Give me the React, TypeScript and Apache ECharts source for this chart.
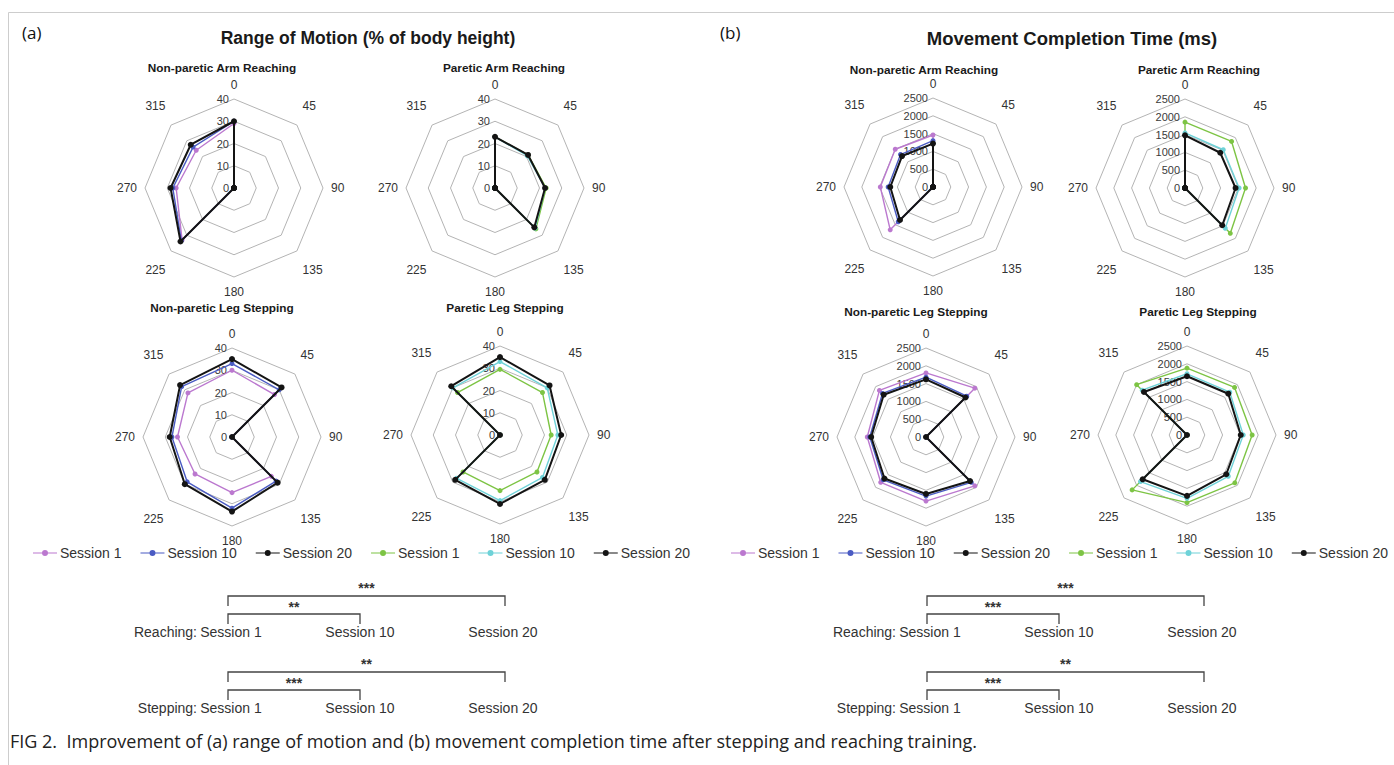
import React, { useEffect, useRef } from 'react';
import * as echarts from 'echarts';

// ---------- data ----------
const DIRECTIONS = [0, 45, 90, 135, 180, 225, 270, 315];
const SESSIONS = ['Session 1', 'Session 10', 'Session 20'];

// Range of motion (% of body height), order: 0,45,90,135,180,225,270,315
const romNpArmS1 = [29, 0, 0, 0, 0, 33, 26, 24];
const romNpArmS10 = [30, 0, 0, 0, 0, 33.5, 27.5, 26];
const romNpArmS20 = [30, 0, 0, 0, 0, 34, 28.5, 27.5];

const romPArmS1 = [23, 21, 23, 26, 0, 0, 0, 0];
const romPArmS10 = [23, 20.5, 22.5, 25.5, 0, 0, 0, 0];
const romPArmS20 = [23, 21, 22.5, 25, 0, 0, 0, 0];

const romNpLegS1 = [30, 27, 0, 25, 25, 23.5, 24.5, 28];
const romNpLegS10 = [33, 30, 0, 28, 32, 28.5, 27, 32];
const romNpLegS20 = [35, 31.5, 0, 29, 33.5, 30, 28, 33];

const romPLegS1 = [29.5, 27, 23, 23.5, 25, 23.5, 0, 27];
const romPLegS10 = [33, 30, 26, 27, 29.5, 27.5, 0, 30];
const romPLegS20 = [35, 31.5, 27.5, 28.5, 31, 28.5, 0, 31];

// Movement completion time (ms)
const mctNpArmS1 = [1460, 0, 0, 0, 0, 1700, 1480, 1500];
const mctNpArmS10 = [1300, 0, 0, 0, 0, 1380, 1260, 1290];
const mctNpArmS20 = [1220, 0, 0, 0, 0, 1310, 1200, 1230];

const mctPArmS1 = [1850, 1850, 1700, 1800, 0, 0, 0, 0];
const mctPArmS10 = [1550, 1520, 1520, 1600, 0, 0, 0, 0];
const mctPArmS20 = [1480, 1400, 1420, 1480, 0, 0, 0, 0];

const mctNpLegS1 = [1800, 1940, 0, 1940, 1800, 1800, 1650, 1850];
const mctNpLegS10 = [1680, 1620, 0, 1800, 1660, 1700, 1580, 1730];
const mctNpLegS20 = [1620, 1570, 0, 1750, 1600, 1650, 1540, 1680];

const mctPLegS1 = [1880, 1890, 1830, 1900, 1900, 2180, 0, 2000];
const mctPLegS10 = [1720, 1700, 1580, 1640, 1780, 1850, 0, 1780];
const mctPLegS20 = [1650, 1640, 1510, 1560, 1710, 1760, 0, 1710];

// significance: [Session 1 vs 20, Session 1 vs 10]
const romReachingSig = ['***', '**'];
const romSteppingSig = ['**', '***'];
const mctReachingSig = ['***', '***'];
const mctSteppingSig = ['**', '***'];

// ---------- layout / style ----------
const NP_COLORS = ['#bb78cf', '#4a5bc3', '#141414'];
const P_COLORS = ['#7dc444', '#6ed2d8', '#141414'];
const FONT = 'Liberation Sans, Arial, sans-serif';
const CAPTION_FONT = 'Open Sans, Lato, sans-serif';
const RADIUS = 89;

const CHARTS = [
  { title: 'Non-paretic Arm Reaching', max: 40, split: 4, data: [romNpArmS1, romNpArmS10, romNpArmS20], paretic: false, cx: 234, cy: 188, tx: 222, ty: 68 },
  { title: 'Paretic Arm Reaching', max: 40, split: 4, data: [romPArmS1, romPArmS10, romPArmS20], paretic: true, cx: 495, cy: 188, tx: 504, ty: 68 },
  { title: 'Non-paretic Leg Stepping', max: 40, split: 4, data: [romNpLegS1, romNpLegS10, romNpLegS20], paretic: false, cx: 232, cy: 437, tx: 222, ty: 308 },
  { title: 'Paretic Leg Stepping', max: 40, split: 4, data: [romPLegS1, romPLegS10, romPLegS20], paretic: true, cx: 500, cy: 435, tx: 505, ty: 308 },
  { title: 'Non-paretic Arm Reaching', max: 2500, split: 5, data: [mctNpArmS1, mctNpArmS10, mctNpArmS20], paretic: false, cx: 933, cy: 187, tx: 924, ty: 70 },
  { title: 'Paretic Arm Reaching', max: 2500, split: 5, data: [mctPArmS1, mctPArmS10, mctPArmS20], paretic: true, cx: 1185, cy: 188, tx: 1199, ty: 70 },
  { title: 'Non-paretic Leg Stepping', max: 2500, split: 5, data: [mctNpLegS1, mctNpLegS10, mctNpLegS20], paretic: false, cx: 926, cy: 437, tx: 916, ty: 312 },
  { title: 'Paretic Leg Stepping', max: 2500, split: 5, data: [mctPLegS1, mctPLegS10, mctPLegS20], paretic: true, cx: 1187, cy: 435, tx: 1198, ty: 312 },
];

// ECharts places radar indicators counter-clockwise; reorder so directions run clockwise
const CCW = [0, 7, 6, 5, 4, 3, 2, 1];
const reorder = (arr: any[]) => CCW.map((i) => arr[i]);

const seriesName = (s: string, paretic: boolean) => (paretic ? s + ' (P)' : s);

const LEGEND_ICON = 'path://M0,3.4H24V4.6H0Z M9,4A3,3 0 1,1 15,4A3,3 0 1,1 9,4Z';

// diagonal direction names sit a little higher / lower (Excel-like placement)
const nameFormatter = (name: string) => {
  if (name === '45' || name === '315') return name + '\n\n';
  if (name === '135' || name === '225') return '\n\n' + name;
  return name;
};

function buildOption() {
  const radar = CHARTS.map((c) => ({
    center: [c.cx, c.cy],
    radius: RADIUS,
    shape: 'polygon',
    startAngle: 90,
    splitNumber: c.split,
    indicator: reorder(DIRECTIONS).map((d, i) => ({
      name: String(d),
      min: 0,
      max: c.max,
      ...(i === 0 ? { axisLabel: { show: true } } : {}),
    })),
    nameGap: 8,
    axisNameGap: 8,
    axisName: { color: '#333', fontSize: 12, lineHeight: 13, fontFamily: FONT, formatter: nameFormatter },
    axisLine: { show: false },
    axisTick: { show: false },
    splitLine: { lineStyle: { color: '#b4b4b4', width: 1 } },
    splitArea: { show: false },
    axisLabel: {
      show: false,
      color: '#3a3a3a',
      fontSize: 11,
      fontFamily: FONT,
      margin: 5,
      formatter: (v: number) => String(v),
    },
  }));

  const series: any[] = [];
  CHARTS.forEach((c, ri) => {
    const colors = c.paretic ? P_COLORS : NP_COLORS;
    c.data.forEach((vals, si) => {
      const name = seriesName(SESSIONS[si], c.paretic);
      series.push({
        type: 'radar',
        radarIndex: ri,
        name,
        symbol: 'circle',
        symbolSize: si === 2 ? 6 : 5,
        itemStyle: { color: colors[si] },
        lineStyle: { color: colors[si], width: si === 2 ? 2 : 1.4 },
        z: 2 + si,
        data: [{ name, value: reorder(vals) }],
      });
    });
  });

  const legendNames = [
    ...SESSIONS.map((s) => seriesName(s, false)),
    ...SESSIONS.map((s) => seriesName(s, true)),
  ];
  const legendBase = {
    data: legendNames,
    top: 546,
    width: 700,
    padding: 0,
    icon: LEGEND_ICON,
    itemWidth: 24,
    itemHeight: 6,
    itemGap: 19,
    selectedMode: false,
    formatter: (n: string) => n.replace(' (P)', ''),
    textStyle: { color: '#333', fontSize: 14, fontFamily: FONT, padding: [0, 0, 0, -2] },
  };
  const legend = [
    { ...legendBase, left: 33 },
    { ...legendBase, left: 731 },
  ];

  const graphic: any[] = [];
  const txt = (text: string, x: number, y: number, o: any = {}) =>
    graphic.push({
      type: 'text',
      silent: true,
      style: {
        text,
        x,
        y,
        fill: o.fill || '#333',
        fontSize: o.fontSize || 14,
        fontFamily: o.fontFamily || FONT,
        fontWeight: o.fontWeight || 'normal',
        align: o.align || 'center',
        verticalAlign: 'middle',
      },
    });

  graphic.push({
    type: 'rect',
    silent: true,
    z: -10,
    shape: { x: 8.5, y: 12.5, width: 1400, height: 800 },
    style: { fill: 'none', stroke: '#cdcdcd', lineWidth: 1 },
  });

  txt('(a)', 22, 32, { fontSize: 17, fontFamily: CAPTION_FONT, fill: '#111', align: 'left' });
  txt('(b)', 720, 32, { fontSize: 17, fontFamily: CAPTION_FONT, fill: '#111', align: 'left' });
  txt('Range of Motion (% of body height)', 368, 38, { fontSize: 17.5, fontWeight: 'bold', fill: '#1a1a1a' });
  txt('Movement Completion Time (ms)', 1072, 38, { fontSize: 18.5, fontWeight: 'bold', fill: '#1a1a1a' });
  CHARTS.forEach((c) => txt(c.title, c.tx, c.ty, { fontSize: 11.8, fontWeight: 'bold', fill: '#1a1a1a' }));

  const brackets = (dx: number, yTop: number, label: string, sig: string[]) => {
    const x1 = 228 + dx;
    const x10 = 360 + dx;
    const x20 = 505 + dx;
    const yShort = yTop + 18;
    const lineStyle = { stroke: '#444', lineWidth: 1.3, fill: 'none' };
    graphic.push({
      type: 'polyline',
      silent: true,
      shape: { points: [[x1, yTop + 10], [x1, yTop], [x20, yTop], [x20, yTop + 10]] },
      style: lineStyle,
    });
    graphic.push({
      type: 'polyline',
      silent: true,
      shape: { points: [[x1, yShort + 10], [x1, yShort], [x10, yShort], [x10, yShort + 10]] },
      style: lineStyle,
    });
    txt(sig[0], (x1 + x20) / 2, yTop - 8, { fontSize: 14, fontWeight: 'bold' });
    txt(sig[1], (x1 + x10) / 2, yShort - 7, { fontSize: 14, fontWeight: 'bold' });
    const yRow = yTop + 36;
    txt(label, 197 + dx, yRow, { align: 'right' });
    txt('Session 1', x1 + 3, yRow);
    txt('Session 10', x10, yRow);
    txt('Session 20', x20 - 2, yRow);
  };
  brackets(0, 596, 'Reaching:', romReachingSig);
  brackets(0, 672, 'Stepping:', romSteppingSig);
  brackets(699, 596, 'Reaching:', mctReachingSig);
  brackets(699, 672, 'Stepping:', mctSteppingSig);

  txt(
    'FIG 2.  Improvement of (a) range of motion and (b) movement completion time after stepping and reaching training.',
    10,
    741,
    { fontSize: 18, fontFamily: CAPTION_FONT, fill: '#222', align: 'left' }
  );

  return {
    animation: false,
    backgroundColor: '#ffffff',
    radar,
    legend,
    series,
    graphic,
  };
}

export default function App() {
  const ref = useRef<HTMLDivElement>(null);
  useEffect(() => {
    if (!ref.current) return;
    const chart = echarts.init(ref.current, undefined, { renderer: 'svg' });
    chart.setOption(buildOption() as any);
    return () => chart.dispose();
  }, []);
  return (
    <div
      ref={ref}
      style={{ position: 'fixed', left: 0, top: 0, width: 1394, height: 765, background: '#fff' }}
    />
  );
}
